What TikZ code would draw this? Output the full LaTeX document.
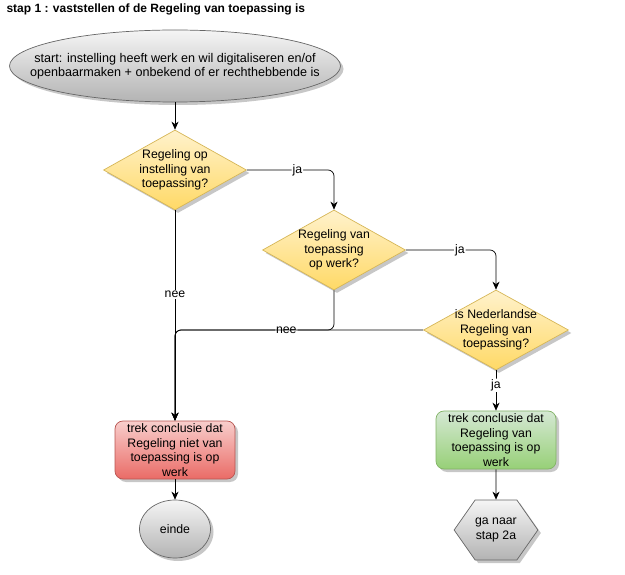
\documentclass[tikz,border=0pt]{standalone}
\usepackage{fontspec}
\setmainfont{Liberation Sans}
\usetikzlibrary{shapes.geometric,shapes.symbols,shadows,arrows.meta}

\definecolor{geelRand}{HTML}{D6B656}
\definecolor{geelBoven}{HTML}{FFF2CC}
\definecolor{geelOnder}{HTML}{FFD966}
\definecolor{roodRand}{HTML}{B85450}
\definecolor{roodBoven}{HTML}{F8CECC}
\definecolor{roodOnder}{HTML}{EA6B66}
\definecolor{groenRand}{HTML}{82B366}
\definecolor{groenBoven}{HTML}{D5E8D4}
\definecolor{groenOnder}{HTML}{97D077}
\definecolor{grijsRand}{HTML}{666666}
\definecolor{grijsBoven}{HTML}{F5F5F5}
\definecolor{grijsOnder}{HTML}{B3B3B3}

\tikzset{
  vorm/.style={draw, line width=0.7pt, inner sep=0pt,
    drop shadow={shadow xshift=3pt, shadow yshift=-3pt, fill=black!22, opacity=1}},
  txt/.style={align=center, font=\fontsize{12.3}{14.5}\selectfont, inner sep=0pt},
  keuze/.style={vorm, diamond, draw=geelRand, top color=geelBoven, bottom color=geelOnder,
    minimum width=143pt, minimum height=80pt},
  grijs/.style={vorm, draw=grijsRand, top color=grijsBoven, bottom color=grijsOnder},
  blok/.style={vorm, rectangle, rounded corners=8pt, minimum width=120pt, minimum height=58pt, txt},
  pijl/.style={-{Stealth[length=8pt, width=7pt, inset=2.5pt]}, line width=0.7pt, rounded corners=6pt},
  lab/.style={fill=white, inner sep=1pt, font=\fontsize{12.3}{14.5}\selectfont}
}

\begin{document}
\begin{tikzpicture}[x=1pt, y=-1pt]
  \useasboundingbox (0,0) rectangle (625,575);
  \node[anchor=base west, font=\bfseries\fontsize{12}{14}\selectfont] (titel) at (3,13)
    {stap 1 : vaststellen of de Regeling van toepassing is};

  \node[grijs, ellipse, minimum width=331pt, minimum height=72pt] (start) at (175,66) {};
  \node[txt, font=\fontsize{12.6}{14.5}\selectfont] (startT) at (start)
    {start: instelling heeft werk en wil digitaliseren en/of\\openbaarmaken + onbekend of er rechthebbende is};

  \node[keuze] (d1) at (175,170) {};
  \node[txt] (d1T) at (d1) {Regeling op\\instelling van\\toepassing?};
  \node[keuze] (d2) at (334,250) {};
  \node[txt] (d2T) at (d2) {Regeling van\\toepassing\\op werk?};
  \node[keuze, minimum width=145pt] (d3) at (496,330) {};
  \node[txt] (d3T) at (d3) {is Nederlandse\\Regeling van\\toepassing?};

  \node[blok, draw=roodRand, top color=roodBoven, bottom color=roodOnder] (niet) at (175,450)
    {trek conclusie dat\\Regeling niet van\\toepassing is op\\werk};
  \node[blok, draw=groenRand, top color=groenBoven, bottom color=groenOnder] (wel) at (496,440)
    {trek conclusie dat\\Regeling van\\toepassing is op\\werk};

  \node[grijs, ellipse, minimum width=71pt, minimum height=58pt, txt] (einde) at (175,529) {einde};
  \node[grijs, signal, signal to=east and west, signal pointer angle=110,
    minimum width=77pt, minimum height=60pt, txt] (stap2) at (496,530) {ga naar\\stap 2a};

  \coordinate (hoek) at (175,330);

  \draw[pijl] (start) -- (d1);
  \draw[pijl] (d1.east) -| node[lab, pos=0.29] {ja} (d2.north);
  \draw[pijl] (d2.east) -| node[lab, pos=0.3] {ja} (d3.north);
  \draw[pijl] (d1) -- node[lab, pos=0.4] {nee} (niet);
  \draw[pijl] (d2.south) |- node[lab, pos=0.65] {nee} (hoek) -- (niet.north);
  \draw[pijl] (d3.west) -| (niet.north);
  \draw[pijl] (d3) -- node[lab, pos=0.37] {ja} (wel);
  \draw[pijl] (niet) -- (einde);
  \draw[pijl] (wel) -- (stap2);
\end{tikzpicture}
\end{document}
